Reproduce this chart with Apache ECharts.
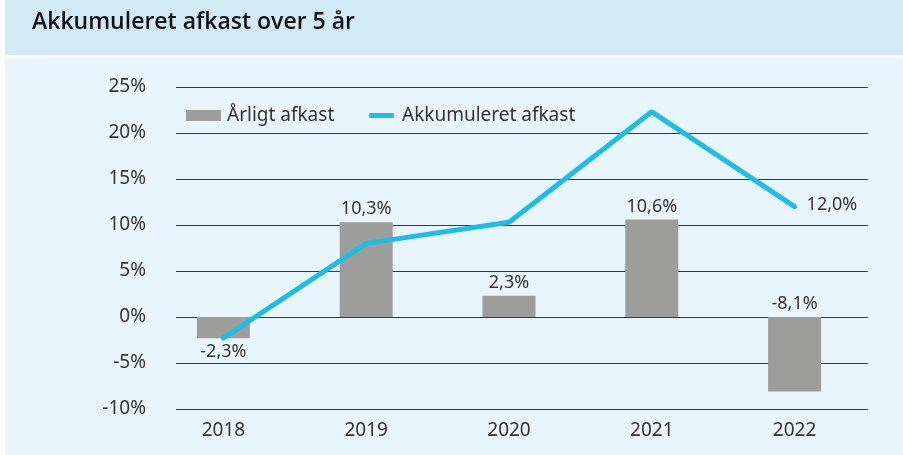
<!DOCTYPE html>
<html>
<head>
<meta charset="utf-8">
<script src="https://cdn.jsdelivr.net/npm/echarts@6/dist/echarts.min.js"></script>
<style>
  html, body { margin: 0; padding: 0; background: #ffffff; }
  #chart { width: 903px; height: 455px; }
</style>
</head>
<body>
<div id="chart"></div>
<script>
const years = ['2018', '2019', '2020', '2021', '2022'];
const annualReturn = [-2.3, 10.3, 2.3, 10.6, -8.1];
const cumulativeReturn = [-2.3, 8.0, 10.3, 22.3, 12.0];
const yTicks = { min: -10, max: 25, step: 5 };

const font = '"Noto Sans", sans-serif';
const textColor = '#333333';
const fmt = v => v.toFixed(1).replace('.', ',') + '%';

const chart = echarts.init(document.getElementById('chart'));

// first bar keeps its label below the bar, like the source
const barData = annualReturn.map((v, i) => i === 0
  ? { value: v, label: { position: 'bottom', distance: 5 } }
  : v);

const options = {
  animation: false,
  textStyle: { fontFamily: font },
  graphic: [
    { type: 'rect', left: 5, top: 0, shape: { width: 898, height: 55 }, style: { fill: '#d2eaf6' }, z: -10 },
    { type: 'rect', left: 5, top: 58, shape: { width: 898, height: 397 }, style: { fill: '#e9f5fc' }, z: -10 },
    {
      type: 'text', left: 32, top: 11,
      style: { text: 'Akkumuleret afkast over 5 år', fill: '#111111', font: '600 23px "Open Sans", sans-serif' }
    }
  ],
  legend: [
    {
      left: 181, top: 101,
      itemWidth: 35, itemHeight: 11, itemGap: 10,
      icon: 'rect',
      data: ['Årligt afkast'],
      textStyle: { fontSize: 19, color: textColor, fontFamily: font, padding: [0, 0, 0, 1] }
    },
    {
      left: 364, top: 101,
      itemWidth: 25, itemHeight: 5,
      icon: 'roundRect',
      data: ['Akkumuleret afkast'],
      textStyle: { fontSize: 19, color: textColor, fontFamily: font, padding: [0, 0, 0, 3] }
    }
  ],
  grid: [
    { left: 176, right: 35, top: 87, bottom: 46 },
    { left: 152, right: 37, top: 87, bottom: 46 }
  ],
  xAxis: [
    { type: 'category', gridIndex: 0, data: years, show: false },
    {
      type: 'category', gridIndex: 1, data: years,
      axisLine: { show: false }, axisTick: { show: false },
      axisLabel: { color: textColor, fontSize: 19, margin: 12, fontFamily: font }
    }
  ],
  yAxis: [
    {
      type: 'value', gridIndex: 0,
      min: yTicks.min, max: yTicks.max, interval: yTicks.step,
      axisLine: { show: false }, axisTick: { show: false },
      axisLabel: { formatter: '{value}%', color: textColor, fontSize: 19, margin: 30, fontFamily: font },
      splitLine: { lineStyle: { color: '#3a3a3a', width: 1 } }
    },
    {
      type: 'value', gridIndex: 1,
      min: yTicks.min, max: yTicks.max, interval: yTicks.step,
      show: false, splitLine: { show: false }
    }
  ],
  series: [
    {
      name: 'Årligt afkast',
      type: 'bar',
      xAxisIndex: 1, yAxisIndex: 1,
      barWidth: 53,
      itemStyle: { color: '#9d9d9b' },
      label: {
        show: true, position: 'top', distance: 4,
        color: textColor, fontSize: 18, fontFamily: font,
        formatter: p => fmt(p.value)
      },
      data: barData
    },
    {
      name: 'Akkumuleret afkast',
      type: 'line',
      xAxisIndex: 1, yAxisIndex: 1,
      symbol: 'none',
      itemStyle: { color: '#1fbde3' },
      lineStyle: { color: '#1fbde3', width: 5, cap: 'round' },
      endLabel: {
        show: true, distance: 12, offset: [0, -2],
        color: textColor, fontSize: 18, fontFamily: font,
        formatter: p => fmt(p.value)
      },
      data: cumulativeReturn,
      z: 3
    }
  ]
};

chart.setOption(options);
</script>
</body>
</html>
